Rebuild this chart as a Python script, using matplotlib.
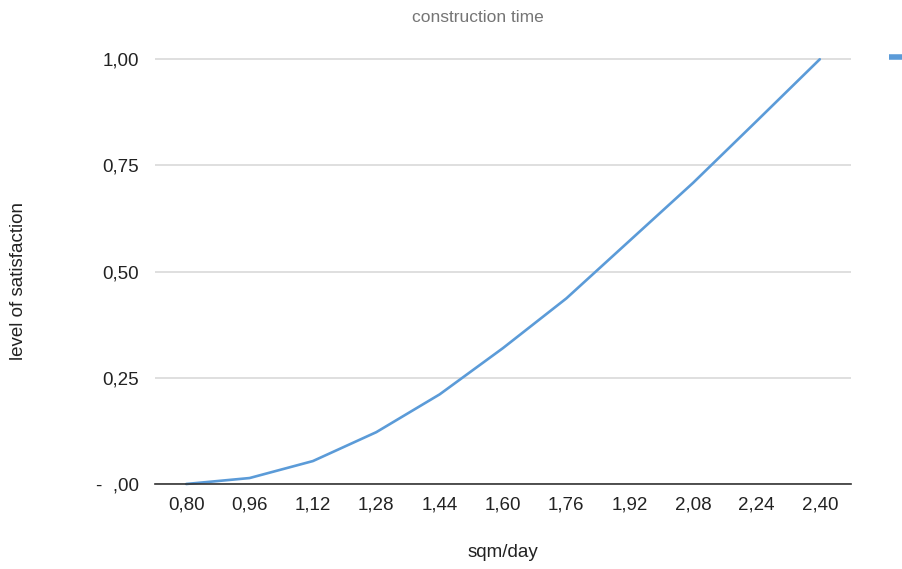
import matplotlib
matplotlib.use("Agg")
import matplotlib.pyplot as plt
from matplotlib.lines import Line2D

plt.rcParams['font.family'] = ['Liberation Sans', 'DejaVu Sans']

# sqm/day categories and satisfaction level
categories = ["0,80", "0,96", "1,12", "1,28", "1,44", "1,60",
              "1,76", "1,92", "2,08", "2,24", "2,40"]
satisfaction = [0.0, 0.014, 0.054, 0.122, 0.211, 0.32,
                0.437, 0.573, 0.709, 0.854, 1.0]
y_ticks = [0.0, 0.25, 0.5, 0.75, 1.0]
y_labels = ["-  ,00", "0,25", "0,50", "0,75", "1,00"]

fig = plt.figure(figsize=(9.02, 5.69), dpi=100)
ax = fig.add_axes([0.1713, 0.1494, 0.7727, 0.7487])

xs = list(range(len(categories)))
ax.plot(xs, satisfaction, color='#5b9bd8', lw=1.9,
        solid_capstyle='round', zorder=3, clip_on=False)

ax.set_xlim(-0.5, len(categories) - 0.5)
ax.set_ylim(0, 1.003)
ax.set_xticks(xs)
ax.set_xticklabels(categories)
ax.set_yticks(y_ticks)
ax.set_yticklabels(y_labels)
ax.tick_params(axis='both', length=0, labelsize=13.5, colors='#222222')
ax.tick_params(axis='x', pad=9)
ax.tick_params(axis='y', pad=11)

ax.grid(axis='y', color='#d9d9d9', lw=1.2)
ax.set_axisbelow(True)
for s in ['top', 'right', 'left']:
    ax.spines[s].set_visible(False)
ax.spines['bottom'].set_color('#333333')
ax.spines['bottom'].set_linewidth(1.2)
ax.spines['bottom'].set_zorder(4)

fig.text(478 / 902, 1 - 17 / 569, "construction time", ha='center',
         va='center', fontsize=12.5, color='#757575')
ax.set_xlabel("sqm/day", fontsize=13.5, color='#222222', labelpad=22)
fig.text(19 / 902, 1 - 281 / 569, "level of satisfaction", rotation=90,
         ha='center', va='center', fontsize=13.5, color='#222222')

# legend swatch, cut off at the right edge like the original
handle = Line2D([], [], color='#5b9bd8', lw=4, solid_capstyle='butt')
ax.legend([handle], [" "], loc='center left', bbox_to_anchor=(1.054, 1.0),
          frameon=False, handlelength=1.2, borderpad=0, borderaxespad=0)

fig.savefig("out.png", dpi=100)
